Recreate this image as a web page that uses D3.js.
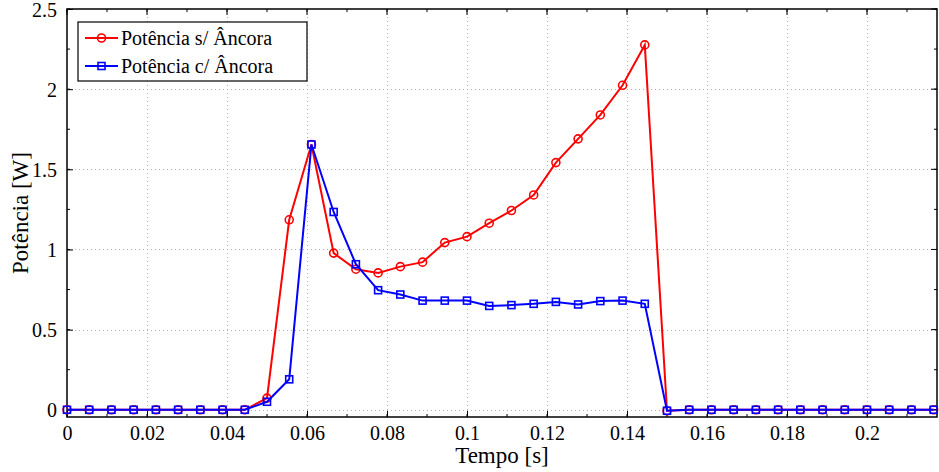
<!DOCTYPE html>
<html><head><meta charset="utf-8">
<script src="https://cdn.jsdelivr.net/npm/d3@7"></script>
<style>body{margin:0;background:#fff}svg{display:block}text{font-family:"Liberation Serif","Times New Roman",serif;fill:#000}</style>
</head><body>
<script>
const timeStep = 1/180;
const semAncora = [0,0,0,0,0,0,0,0,0,0.073,1.185,1.655,0.977,0.877,0.854,0.893,0.921,1.043,1.08,1.164,1.243,1.34,1.542,1.69,1.839,2.024,2.276,-0.006,0,0,0,0,0,0,0,0,0,0,0,0];
const comAncora = [0,0,0,0,0,0,0,0,0,0.05,0.19,1.655,1.234,0.908,0.746,0.719,0.681,0.681,0.681,0.648,0.653,0.661,0.673,0.657,0.678,0.681,0.661,-0.006,0,0,0,0,0,0,0,0,0,0,0,0];
const xTicks = [0,0.02,0.04,0.06,0.08,0.1,0.12,0.14,0.16,0.18,0.2];
const xTickLabels = ["0","0.02","0.04","0.06","0.08","0.1","0.12","0.14","0.16","0.18","0.2"];
const yTicks = [0,0.5,1,1.5,2,2.5];
const yTickLabels = ["0","0.5","1","1.5","2","2.5"];
const seriesNames = ["Potência s/ Âncora","Potência c/ Âncora"];
const xLabel = "Tempo [s]", yLabel = "Potência [W]";

const W=939,H=472, L=67,T=9,R=937,B=417;
const FONT = "Liberation Serif";
const x = d3.scaleLinear().domain([0,0.2175]).range([L,R]);
const y = d3.scaleLinear().domain([-0.045,2.5]).range([B,T]);
const svg = d3.select("body").append("svg").attr("width",W).attr("height",H).attr("font-family",FONT);

// grid
const grid = svg.append("g").attr("stroke","#b0b0b0").attr("stroke-width",1).attr("stroke-dasharray","1,3");
xTicks.filter(t=>t>0).forEach(t=>grid.append("line").attr("x1",Math.round(x(t))+0.5).attr("x2",Math.round(x(t))+0.5).attr("y1",T).attr("y2",B));
yTicks.filter(t=>t<2.5).forEach(t=>grid.append("line").attr("y1",Math.round(y(t))+0.5).attr("y2",Math.round(y(t))+0.5).attr("x1",L).attr("x2",R));

// axes with inward ticks
const minorX = d3.range(0,0.22,0.01), minorY = d3.range(0,2.51,0.25);
const axB = d3.axisBottom(x).tickValues(xTicks).tickFormat((d,i)=>xTickLabels[i]).tickSizeInner(-6).tickSizeOuter(0).tickPadding(9);
const axL = d3.axisLeft(y).tickValues(yTicks).tickFormat((d,i)=>yTickLabels[i]).tickSizeInner(-6).tickSizeOuter(0).tickPadding(10);
const gB = svg.append("g").attr("transform",`translate(0,${B})`).call(axB);
const gL = svg.append("g").attr("transform",`translate(${L},0)`).call(axL);
[gB,gL].forEach(g=>{g.attr("font-family",FONT).attr("font-size",20); g.selectAll("text").attr("font-family",FONT).attr("font-size",20).attr("fill","#000"); g.select(".domain").remove(); g.selectAll("line").attr("stroke","#000");});
gB.selectAll("text").attr("dy","0.71em");
gL.selectAll("text").attr("dy","0.35em");
const tk = svg.append("g").attr("stroke","#000").attr("stroke-width",1);
minorX.forEach(t=>{const xx=x(t);tk.append("line").attr("x1",xx).attr("x2",xx).attr("y1",B).attr("y2",B-3);tk.append("line").attr("x1",xx).attr("x2",xx).attr("y1",T).attr("y2",T+3);});
xTicks.forEach(t=>{const xx=x(t);tk.append("line").attr("x1",xx).attr("x2",xx).attr("y1",T).attr("y2",T+6);});
minorY.forEach(t=>{const yy=y(t);tk.append("line").attr("y1",yy).attr("y2",yy).attr("x1",L).attr("x2",L+3);tk.append("line").attr("y1",yy).attr("y2",yy).attr("x1",R).attr("x2",R-3);});
yTicks.forEach(t=>{const yy=y(t);tk.append("line").attr("y1",yy).attr("y2",yy).attr("x1",R).attr("x2",R-6);});
svg.append("rect").attr("x",L).attr("y",T).attr("width",R-L).attr("height",B-T).attr("fill","none").attr("stroke","#000").attr("stroke-width",1.5);

// labels
svg.append("text").attr("x",(L+R)/2).attr("y",463).attr("text-anchor","middle").attr("font-size",23).text(xLabel);
svg.append("text").attr("transform",`translate(28,${(T+B)/2}) rotate(-90)`).attr("text-anchor","middle").attr("font-size",23).text(yLabel);

// series
const line = d3.line().x((d,i)=>x(i*timeStep)).y(d=>y(d));
const red="#ff0000", blue="#0000ff";
const gS = svg.append("g");
gS.append("path").datum(semAncora).attr("d",line).attr("fill","none").attr("stroke",red).attr("stroke-width",2);
gS.selectAll("circle").data(semAncora).join("circle").attr("cx",(d,i)=>x(i*timeStep)).attr("cy",d=>y(d)).attr("r",4).attr("fill","none").attr("stroke",red).attr("stroke-width",1.6);
gS.append("path").datum(comAncora).attr("d",line).attr("fill","none").attr("stroke",blue).attr("stroke-width",2);
gS.selectAll("rect.m").data(comAncora).join("rect").attr("class","m").attr("x",(d,i)=>x(i*timeStep)-3.5).attr("y",d=>y(d)-3.5).attr("width",7).attr("height",7).attr("fill","none").attr("stroke",blue).attr("stroke-width",1.6);

// legend
const lg = svg.append("g");
lg.append("rect").attr("x",78).attr("y",22).attr("width",229).attr("height",59).attr("fill","#fff").attr("stroke","#000").attr("stroke-width",1.2);
[[red,"c"],[blue,"s"]].forEach((s,k)=>{
  const yy = 38 + k*28;
  lg.append("line").attr("x1",85).attr("x2",118).attr("y1",yy).attr("y2",yy).attr("stroke",s[0]).attr("stroke-width",2);
  if(s[1]==="c") lg.append("circle").attr("cx",101.5).attr("cy",yy).attr("r",4).attr("fill","none").attr("stroke",s[0]).attr("stroke-width",1.6);
  else lg.append("rect").attr("x",98).attr("y",yy-3.5).attr("width",7).attr("height",7).attr("fill","none").attr("stroke",s[0]).attr("stroke-width",1.6);
  lg.append("text").attr("x",121).attr("y",yy).attr("dy","0.35em").attr("font-size",20).text(seriesNames[k]);
});
</script>
</body></html>
